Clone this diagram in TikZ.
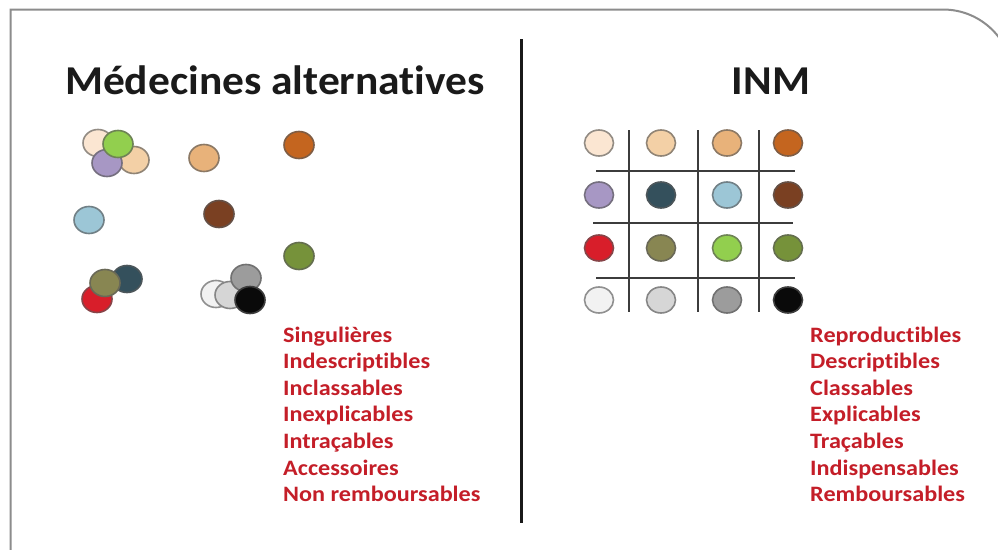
\documentclass[tikz,border=0pt]{standalone}
\usepackage{fontspec}
\setmainfont{Carlito}[Ligatures={NoCommon}]
\usetikzlibrary{shapes.geometric}
\definecolor{framec}{RGB}{140,140,140}
\definecolor{titlec}{RGB}{26,26,26}
\definecolor{redtxt}{RGB}{196,30,40}
\definecolor{gridc}{RGB}{60,60,60}
\definecolor{ccream}{HTML}{FBE6D2}
\definecolor{cpeach}{HTML}{F3D0A6}
\definecolor{ctan}{HTML}{E8B27A}
\definecolor{corange}{HTML}{C4651F}
\definecolor{clav}{HTML}{A797C4}
\definecolor{cteal}{HTML}{34505C}
\definecolor{clblue}{HTML}{9CC6D6}
\definecolor{cbrown}{HTML}{7A4022}
\definecolor{cred}{HTML}{D81E2A}
\definecolor{ckhaki}{HTML}{888652}
\definecolor{cgreen}{HTML}{92CF4E}
\definecolor{colive}{HTML}{76923A}
\definecolor{cwhite}{HTML}{F2F2F2}
\definecolor{clgray}{HTML}{D6D6D6}
\definecolor{cgray}{HTML}{9C9C9C}
\definecolor{cblack}{HTML}{0A0A0A}
\tikzset{
  dot/.style={ellipse, inner sep=0pt, minimum width=30pt, minimum height=27pt,
    line width=1.6pt, fill=#1, draw=#1!65!black!55!gray},
  gdot/.style={dot=#1, minimum width=29pt, minimum height=26pt},
  gridline/.style={gridc, line width=1.8pt},
  title/.style={font=\fontsize{41}{48}\selectfont\bfseries, text=titlec, anchor=base, xscale=1.06},
  item/.style={font=\fontsize{22}{26}\selectfont\bfseries, text=redtxt, anchor=base west, inner sep=0pt, xscale=1.1}
}
\begin{document}
\begin{tikzpicture}[x=1pt,y=-1pt]
\useasboundingbox (0,0) rectangle (998,549);
\clip (0,0) rectangle (998,549);
\fill[white] (0,0) rectangle (998,549);
% frame
\draw[framec, line width=2pt] (10.5,560) -- (10.5,9.5) -- (943,9.5)
  arc[start angle=90, end angle=0, radius=70pt] -- (1013,560);
% titles
\node[title] (t1) at (275,94) {Médecines alternatives};
\node[title] (t2) at (771,94) {INM};
% divider
\coordinate (dtop) at (521.5,39);
\coordinate (dbot) at (521.5,523);
\draw[black!90, line width=3pt] (dtop) -- (dbot);
% left scattered dots
\node[dot=ccream] (l1) at (98,143) {};
\node[dot=cpeach] (l2) at (134,160) {};
\node[dot=clav] (l3) at (107,163) {};
\node[dot=cgreen] (l4) at (118,144) {};
\node[dot=ctan] (l5) at (204,158) {};
\node[dot=corange] (l6) at (299,145) {};
\node[dot=clblue] (l7) at (89,220) {};
\node[dot=cbrown] (l8) at (219,214) {};
\node[dot=colive] (l9) at (299,256) {};
\node[dot=cteal] (l10) at (127,279) {};
\node[dot=cred] (l11) at (97,299) {};
\node[dot=ckhaki] (l12) at (105,283) {};
\node[dot=cwhite] (l13) at (216,294) {};
\node[dot=clgray] (l14) at (230,295) {};
\node[dot=cgray] (l15) at (246,278) {};
\node[dot=cblack] (l16) at (250,300) {};
% grid lines
\foreach \x in {629,698,759} \draw[gridline] (\x,130) -- (\x,312);
\draw[gridline] (596,171) -- (795,171);
\draw[gridline] (593,223) -- (793,223);
\draw[gridline] (596,278) -- (795,278);
% grid dots
\foreach \c [count=\i] in {ccream,cpeach,ctan,corange}
  \node[gdot=\c] (g1\i) at ({599+(\i==2)*62+(\i==3)*128+(\i==4)*189},143) {};
\foreach \c [count=\i] in {clav,cteal,clblue,cbrown}
  \node[gdot=\c] (g2\i) at ({599+(\i==2)*62+(\i==3)*128+(\i==4)*189},195) {};
\foreach \c [count=\i] in {cred,ckhaki,cgreen,colive}
  \node[gdot=\c] (g3\i) at ({599+(\i==2)*62+(\i==3)*128+(\i==4)*189},248) {};
\foreach \c [count=\i] in {cwhite,clgray,cgray,cblack}
  \node[gdot=\c] (g4\i) at ({599+(\i==2)*62+(\i==3)*128+(\i==4)*189},300) {};
% red lists
\foreach \t [count=\i] in {Singulières,Indescriptibles,Inclassables,Inexplicables,Intraçables,Accessoires,Non remboursables}
  \node[item] (a\i) at (283,{342+26.6*(\i-1)}) {\t};
\foreach \t [count=\i] in {Reproductibles,Descriptibles,Classables,Explicables,Traçables,Indispensables,Remboursables}
  \node[item] (b\i) at (810,{342+26.6*(\i-1)}) {\t};
\end{tikzpicture}
\end{document}
